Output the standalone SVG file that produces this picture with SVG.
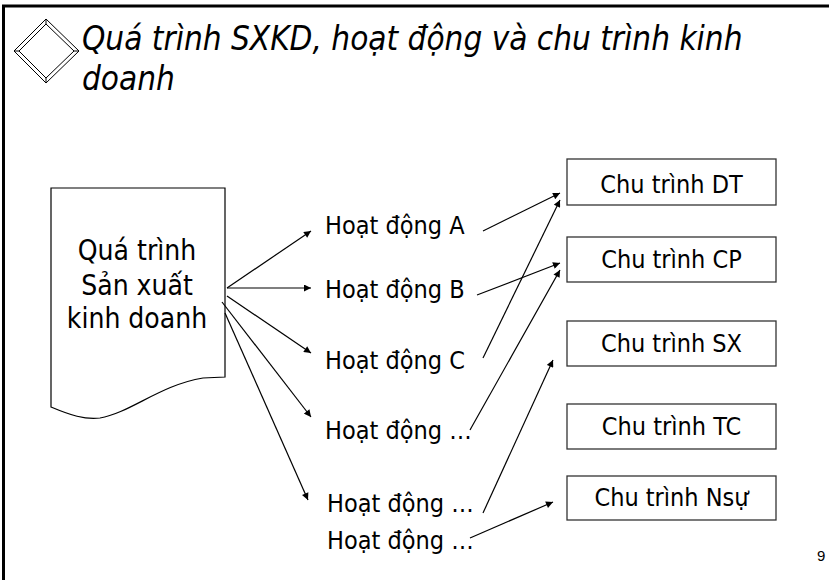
<svg xmlns="http://www.w3.org/2000/svg" width="829" height="580" viewBox="0 0 829 580">
<defs>
<marker id="ah" viewBox="0 0 10 10" refX="10" refY="5" markerWidth="8" markerHeight="7" markerUnits="userSpaceOnUse" orient="auto">
<path d="M0,0 L10,5 L0,10 z" fill="#000"/>
</marker>
<style>
.t{font-family:"DejaVu Sans Condensed","DejaVu Sans",sans-serif;font-stretch:condensed;fill:#000}
.lbl{font-size:25px}
.box{fill:#fff;stroke:#333;stroke-width:1.3}
.c{stroke:#000;stroke-width:1.2;fill:none;marker-end:url(#ah)}
</style>
</defs>
<rect width="829" height="580" fill="#fff"/>
<path d="M3.5,580 V6 H829" fill="none" stroke="#000" stroke-width="3"/>
<g id="title-icon" fill="none" stroke="#000" stroke-width="1">
<path d="M14,51 L46,19 L79,51 L46,83 Z"/>
<path d="M19,51 L46,24 L74,51 L46,78 Z"/>
<path d="M14,51 L19,51 M46,19 L46,24 M79,51 L74,51 M46,83 L46,78"/>
</g>
<g id="title">
<text class="t" x="82" y="50" font-size="33" font-style="italic">Quá trình SXKD, hoạt động và chu trình kinh</text>
<text class="t" x="82" y="90" font-size="33" font-style="italic">doanh</text>
</g>
<g id="process">
<path d="M51,188 H225 V377 L203,378 C160,385 130,413 100,418 C85,420 70,415 51,407 Z" fill="#fff" stroke="#000" stroke-width="1.2"/>
<text class="t" font-size="28" text-anchor="middle"><tspan x="137" y="260">Quá trình</tspan><tspan x="137" y="295">Sản xuất</tspan><tspan x="137" y="328">kinh doanh</tspan></text>
</g>
<g id="hd-a"><text class="t lbl" x="325" y="234">Hoạt động A</text></g>
<g id="hd-b"><text class="t lbl" x="325" y="298">Hoạt động B</text></g>
<g id="hd-c"><text class="t lbl" x="325" y="369">Hoạt động C</text></g>
<g id="hd-d1"><text class="t lbl" x="325" y="439">Hoạt động …</text></g>
<g id="hd-d2"><text class="t lbl" x="327" y="512">Hoạt động …</text></g>
<g id="hd-d3"><text class="t lbl" x="327" y="549">Hoạt động …</text></g>
<g id="ct-dt"><rect class="box" x="567" y="159" width="209" height="46"/><text class="t lbl" x="671.5" y="193" text-anchor="middle">Chu trình DT</text></g>
<g id="ct-cp"><rect class="box" x="567" y="237" width="209" height="45"/><text class="t lbl" x="671.5" y="268" text-anchor="middle">Chu trình CP</text></g>
<g id="ct-sx"><rect class="box" x="567" y="321" width="209" height="45"/><text class="t lbl" x="671.5" y="352" text-anchor="middle">Chu trình SX</text></g>
<g id="ct-tc"><rect class="box" x="567" y="404" width="209" height="45"/><text class="t lbl" x="671.5" y="435" text-anchor="middle">Chu trình TC</text></g>
<g id="ct-ns"><rect class="box" x="567" y="476" width="209" height="44"/><text class="t lbl" x="671.5" y="506" text-anchor="middle">Chu trình Nsự</text></g>
<g id="connectors">
<line class="c" x1="227" y1="288" x2="311" y2="231"/>
<line class="c" x1="227" y1="288" x2="311" y2="288"/>
<line class="c" x1="227" y1="296" x2="311" y2="353"/>
<line class="c" x1="222" y1="302" x2="311" y2="417"/>
<line class="c" x1="225" y1="313" x2="308" y2="500"/>
<line class="c" x1="483" y1="231" x2="560" y2="193"/>
<line class="c" x1="477" y1="295" x2="560" y2="263"/>
<line class="c" x1="483" y1="358" x2="560" y2="200"/>
<line class="c" x1="470" y1="430" x2="560" y2="270"/>
<line class="c" x1="483" y1="513" x2="553" y2="360"/>
<line class="c" x1="470" y1="538" x2="553" y2="502"/>
</g>
<text x="817" y="561" font-family="Liberation Sans, Arial, sans-serif" font-size="15" fill="#000">9</text>
</svg>
